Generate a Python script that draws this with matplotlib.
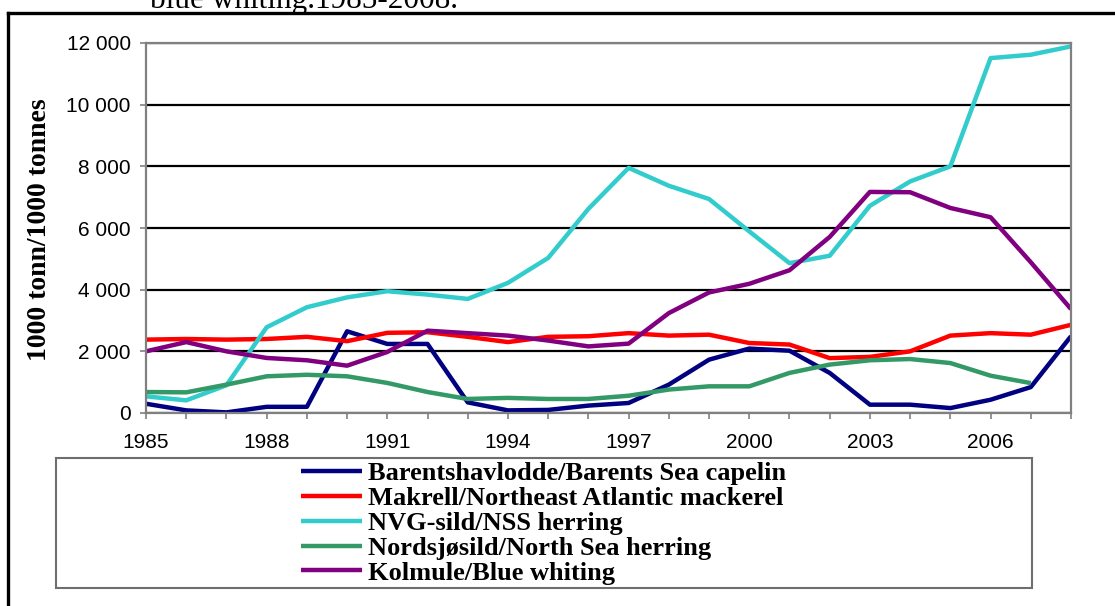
import matplotlib
matplotlib.use("Agg")
import matplotlib.pyplot as plt
import numpy as np
from matplotlib.patches import Rectangle
from matplotlib.lines import Line2D
from matplotlib.ticker import FuncFormatter

# data (1000 tonnes)
years = np.arange(1985, 2009)
capelin = [300, 85, 20, 200, 200, 2650, 2240, 2240, 345, 85, 100, 240,
           325, 920, 1730, 2090, 2020, 1300, 270, 270, 160, 430, 840, 2490]
mackerel = [2380, 2400, 2380, 2400, 2470, 2330, 2600, 2620, 2470, 2300, 2470, 2490,
            2590, 2510, 2540, 2270, 2220, 1780, 1820, 2000, 2510, 2590, 2540, 2860]
nss_herring = [540, 410, 900, 2780, 3430, 3750, 3950, 3840, 3700, 4220, 5030, 6620,
               7950, 7370, 6940, 5890, 4860, 5100, 6720, 7510, 8000, 11510, 11620, 11890]
ns_herring = [680, 670, 920, 1190, 1240, 1190, 975, 680, 455, 490, 455, 455,
              560, 760, 865, 865, 1300, 1570, 1710, 1750, 1620, 1210, 970, np.nan]
blue_whiting = [2000, 2300, 2000, 1785, 1710, 1535, 1980, 2670, 2590, 2510, 2350, 2160,
                2250, 3240, 3910, 4190, 4630, 5710, 7170, 7160, 6650, 6350, 4890, 3370]

labels = ['Barentshavlodde/Barents Sea capelin',
          'Makrell/Northeast Atlantic mackerel',
          'NVG-sild/NSS herring',
          'Nordsjøsild/North Sea herring',
          'Kolmule/Blue whiting']
colors = ['#000080', '#FF0000', '#33CCCC', '#339966', '#800080']
series = [capelin, mackerel, nss_herring, ns_herring, blue_whiting]

W, H = 1115, 606
fig = plt.figure(figsize=(W / 100, H / 100), dpi=100)

# posicion del area del grafico en pixeles
ax = fig.add_axes([146 / W, 1 - 413 / H, (1071 - 146) / W, (413 - 43) / H])

for vals, c, lab in zip(series, colors, labels):
    ax.plot(years, vals, color=c, lw=3.2, label=lab, solid_capstyle='butt')

ax.set_xlim(1985, 2008)
ax.set_ylim(0, 12000)
ax.set_yticks(np.arange(0, 12001, 2000))
ax.yaxis.set_major_formatter(FuncFormatter(lambda v, p: f"{int(v):,}".replace(",", " ")))
ax.set_xticks(years)
ax.set_xticklabels([str(y) if (y - 1985) % 3 == 0 else '' for y in years])

ax.grid(axis='y', color='black', lw=1.6)
ax.set_axisbelow(True)
for s in ax.spines.values():
    s.set_color('#808080')
    s.set_linewidth(1.6)

ax.tick_params(axis='y', direction='out', length=4, width=1.2, color='#808080',
               pad=7, labelsize=15)
ax.tick_params(axis='x', direction='out', length=4.5, width=1.2, color='#808080',
               pad=10, labelsize=15)
for t in ax.get_xticklabels() + ax.get_yticklabels():
    t.set_fontfamily('Liberation Sans')

# etiqueta eje Y
fig.text(40 / W, 1 - 230 / H, '1000 tonn/1000 tonnes', rotation=90,
         ha='center', va='center', fontsize=20, fontweight='bold',
         family='Liberation Serif')

# titulo cortado arriba
fig.text(304 / W, 1 - 8 / H, 'blue whiting.1985-2008.', ha='center', va='baseline',
         fontsize=22.5, family='Liberation Serif')

# marco exterior
fig.add_artist(Line2D([8 / W, 8 / W], [0, 1 - 13 / H], color='black', lw=2.4,
                      transform=fig.transFigure))
fig.add_artist(Line2D([8 / W, 1], [1 - 13 / H, 1 - 13 / H], color='black', lw=2.4,
                      transform=fig.transFigure))

# caja de la leyenda
fig.add_artist(Rectangle((56 / W, 1 - 588 / H), (1032 - 56) / W, (588 - 458) / H,
                         transform=fig.transFigure, facecolor='white',
                         edgecolor='#6e6e6e', lw=1.5))

leg = fig.legend(loc='upper left', bbox_to_anchor=(301 / W, 1 - 462 / H),
                 frameon=False, borderpad=0, borderaxespad=0,
                 handlelength=2.3, handletextpad=0.25, labelspacing=0.05,
                 prop={'family': 'Liberation Serif', 'weight': 'bold', 'size': 19})

fig.savefig('out.png', dpi=100)
